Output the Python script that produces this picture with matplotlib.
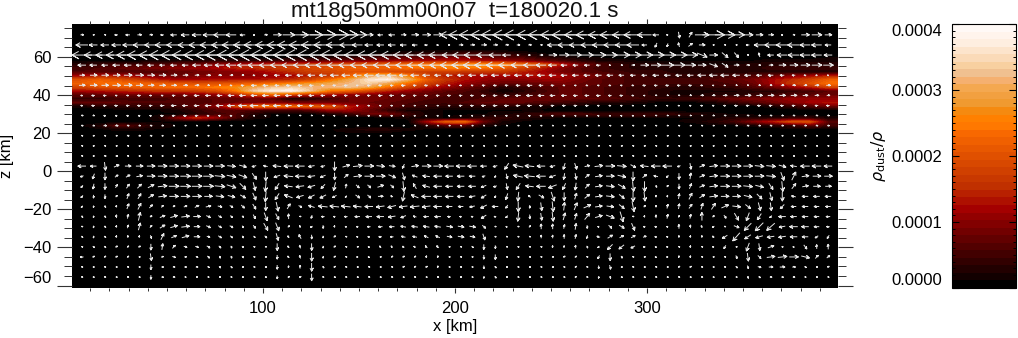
#!/usr/bin/env python
"""Dust concentration slice with velocity arrows and a banded colour bar."""
import numpy as np
import matplotlib
matplotlib.use("Agg")
import matplotlib.pyplot as plt
from matplotlib.cm import ScalarMappable
from matplotlib.collections import LineCollection
from matplotlib.colors import ListedColormap, Normalize
from matplotlib.ticker import FixedLocator, MultipleLocator
from matplotlib.transforms import IdentityTransform

plt.rcParams["font.family"] = ["Liberation Sans", "DejaVu Sans"]

title = "mt18g50mm00n07  t=180020.1 s"

band_colors = ["#000000", "#120000", "#220000", "#320000", "#420000", "#520000", "#620000", "#720000",
               "#820000", "#920000", "#a40000", "#ae1000", "#b82000", "#c03000", "#c83800", "#d04000",
               "#d84800", "#e05000", "#e85800", "#f06000", "#f86800", "#ff7800", "#ff8000", "#f58a10",
               "#f09a30", "#f2a040", "#f4a850", "#f5b070", "#f0c090", "#f8d0a0", "#fadab8", "#fce4cc",
               "#feeee0", "#fff4ec", "#fff9f6"]

# rho_dust/rho in units of 1e-5, one row per 2 km from z=64 down to z=18, one column per 10 km
dust_z = list(range(64, 16, -2))
dust = [
    [0]*40,
    [0,0,0,0,0,0,0,0,0,0,0,0,0,0,0,0,1,2,3,3,4,4,3,2,1,0,0,0,0,0,0,0,0,0,0,0,0,0,0,0],
    [0,0,0,0,0,0,0,0,0,0,0,0,1,2,3,4,5,6,7,8,8,7,6,5,3,2,1,1,0,0,0,0,0,0,0,0,0,0,0,1],
    [1,1,1,1,2,2,2,3,3,3,4,5,6,7,8,9,10,11,12,13,13,12,11,9,7,5,3,2,2,1,1,1,1,1,1,1,2,2,2,2],
    [3,4,5,5,6,7,8,10,12,14,15,16,17,18,20,21,22,24,25,26,27,27,26,24,20,14,9,6,4,3,3,2,2,2,2,3,3,3,3,3],
    [5,6,7,8,9,10,11,12,14,15,16,18,19,20,22,22,23,24,24,25,25,25,22,18,14,10,7,5,4,3,3,3,3,3,3,3,4,4,4,4],
    [6,6,6,6,6,7,8,9,10,11,13,15,17,18,20,20,19,18,17,17,16,16,16,14,12,9,7,6,5,4,4,3,3,3,3,3,3,3,3,3],
    [12,14,13,11,9,8,9,10,10,10,11,12,14,16,22,30,33,26,18,14,13,12,12,12,13,12,10,8,6,5,4,4,4,4,5,6,8,10,12,14],
    [20,22,20,17,14,12,12,13,13,13,14,15,18,24,30,36,38,32,22,16,13,11,10,10,11,11,9,7,6,5,5,5,5,6,7,9,12,15,18,22],
    [22,24,24,23,22,21,20,20,21,22,24,26,28,30,32,34,30,24,18,14,11,9,8,8,8,9,8,7,6,5,5,5,5,5,6,8,12,16,20,24],
    [18,20,21,22,23,24,24,25,27,30,33,34,32,32,33,30,24,18,14,11,8,6,3,4,6,7,7,6,5,4,4,3,3,4,4,6,8,11,14,18],
    [12,13,14,15,16,16,17,19,24,34,38,39,33,24,22,18,14,11,9,7,6,4,1,3,5,7,7,6,5,4,3,2,2,2,2,3,3,4,5,7],
    [7,7,8,8,8,8,9,10,13,18,22,18,14,12,10,9,8,7,7,6,5,5,4,5,6,7,7,6,5,4,3,2,2,3,3,4,5,6,7,8],
    [4,4,5,5,5,6,6,7,7,8,7,2,3,5,8,9,8,7,6,5,5,6,7,8,8,8,7,7,6,5,4,4,5,6,8,9,10,11,11,11],
    [7,7,7,6,6,6,6,7,8,9,10,9,9,9,8,8,7,6,5,5,6,7,7,7,6,5,4,3,3,2,1,1,1,2,4,6,8,10,12,13],
    [2,3,3,4,4,5,7,10,18,24,25,24,22,20,14,10,7,5,4,3,3,3,3,2,2,1,1,0,0,0,0,0,0,0,0,1,2,4,6,8],
    [0,0,1,1,1,2,4,6,7,6,5,5,7,12,12,8,4,2,2,1,1,1,1,1,1,0,0,0,0,0,0,0,0,0,0,0,0,0,1,1],
    [0,0,0,0,1,1,3,5,6,3,1,1,1,2,4,8,9,5,2,1,1,1,2,3,5,6,6,5,5,5,5,4,3,2,1,1,0,0,0,0],
    [0,0,0,0,2,10,16,12,6,2,1,0,0,0,0,0,1,2,2,1,2,4,4,3,2,1,1,1,1,1,1,1,1,2,3,3,3,4,4,2],
    [0,0,1,1,1,1,1,0,0,0,0,0,0,0,0,0,0,0,12,22,24,8,2,1,0,0,0,0,0,0,1,1,2,3,5,10,14,20,20,6],
    [1,3,7,5,2,1,1,0,0,0,0,0,0,0,0,0,0,0,3,6,6,2,1,0,0,0,0,0,0,0,0,0,0,1,1,2,3,4,7,5],
    [0,1,2,2,1,1,1,0,0,0,0,0,1,1,2,3,3,2,1,1,1,0,0,0,0,0,0,0,0,0,0,0,0,0,0,0,0,1,1,1],
    [0,0,0,0,0,0,0,0,0,0,0,0,0,1,1,1,1,0,0,0,0,0,0,0,0,0,0,0,0,0,0,0,0,0,0,0,0,0,0,0],
    [0]*40,
]

# arrow components in pixels, 66 columns per row, rows run from the top of the panel
u_upper = [
    [3,1,0,-3,-4,4,3,-3,-6,-8,-9,-10,-12,-10,-5,-1,3,8,12,16,22,26,28,24,18,8,-5,-6,5,7,8,9,-18,-24,-26,-26,-28,-28,-28,-26,-26,-24,-24,-22,-22,-20,-20,-18,-18,-14,-6,-1,1,3,14,22,20,16,10,7,5,-1,2,8,10,7],
    [-12,-8,-8,-9,-10,-12,-12,-14,-14,-14,-15,-16,-16,-18,-18,-20,-20,-20,-22,-22,-20,-18,-16,-12,-10,-8,-7,-7,-6,-5,-3,-2,-1,4,4,5,4,3,3,3,2,-10,-12,-12,-12,-12,-12,-12,-12,-5,-2,-1,-1,4,6,1,1,1,-3,-10,-12,-12,-12,-10,-10,-6],
    [-20,-18,-18,-20,-22,-24,-24,-26,-26,-26,-26,-26,-28,-28,-30,-30,-30,-30,-30,-30,-30,-28,-28,-26,-26,-24,-24,-22,-20,-20,-18,-18,-14,-16,-16,-14,-12,-8,-2,-2,3,8,10,11,12,14,14,16,16,16,16,16,16,14,10,8,6,4,1,-1,-6,-10,-11,-10,-10,-8],
    [-8,-7,-6,-7,-7,-6,-6,-5,-6,-6,-8,-8,-9,-10,-10,-12,-12,-13,-13,-13,-13,-14,-14,-14,-14,-14,-14,-14,-15,-15,-16,-16,-18,-18,-18,-18,-18,-16,-14,-12,-10,-8,-6,-5,-5,-4,-1,1,3,8,10,12,12,10,8,8,6,5,3,2,4,7,8,9,10,10],
    [5,7,7,7,8,8,7,7,6,5,4,4,3,3,2,-2,-4,-5,-6,-6,-7,-7,-8,-8,-8,-9,-9,-9,-8,-8,-7,-6,-6,-6,-7,-7,-7,-7,-7,-7,-7,-7,-6,-6,-6,-6,-6,-5,-5,-5,-6,-6,-6,-6,-8,-8,-8,-7,-6,-5,-5,-4,-3,-2,-1,-1],
    [6,7,7,8,8,7,6,6,5,4,4,2,1,-2,-3,-5,-5,-4,-4,-4,-4,-3,-3,-3,-2,-3,-3,-3,-4,-3,-3,-3,-2,-2,-2,-3,-3,-3,-4,-5,-4,-3,-2,-2,-2,-2,-2,-2,-2,-3,-3,-3,-3,-3,-2,-1,-1,1,1,2,2,3,3,3,4,4],
    [-2,-3,-3,-2,-2,-3,-2,-2,-3,-4,-5,-5,-5,-6,-6,-6,-6,-6,-6,-4,-5,-4,-4,-3,-4,-3,-4,-4,-4,-3,-3,-3,-3,-3,-3,-4,-4,-5,-5,-6,-6,-5,-5,-4,-4,-4,-3,-3,-2,-1,1,1,1,2,3,3,4,5,6,6,6,6,6,5,4,3],
    [-2,-3,-3,-3,-3,-3,-3,-4,-5,-5,-5,-6,-7,-7,-8,-8,-7,-7,-6,-5,-4,-3,-3,-2,-2,-2,-2,-2,-2,-1,-1,-1,-2,-3,-3,-4,-4,-4,-4,-4,-3,-3,-3,-3,-3,-2,-2,-2,-1,-1,-1,-1,-1,-2,-2,-2,-2,-3,-3,-3,-3,-3,-3,-3,-3,-3],
    [2,2,-2,-2,-2,-2,-2,-3,-3,-3,-3,-2,-2,-2,-1,-1,-1,1,1,1,1,1,-1,-1,-1,-2,-2,-2,-1,-1,-1,-1,-1,-1,-1,-1,-1,-2,-2,-2,-2,-2,-2,-1,-1,-1,-1,-1,-1,-1,1,1,1,1,1,2,2,2,2,2,2,2,2,2,2,2],
    [2,2,3,3,2,2,2,2,1,1,1,1,1,1,1,0,0,1,1,1,1,1,1,1,1,1,1,1,1,1,1,1,1,1,1,1,1,1,1,1,1,1,0,0,1,1,1,1,1,1,1,1,1,1,1,1,1,2,2,2,2,2,2,2,2,2],
    [1,1,1,1,2,2,2,1,1,1,0,0,1,1,0,0,1,1,0,0,1,1,0,0,1,1,1,1,1,1,1,0,0,0,0,1,1,0,0,1,1,0,0,1,1,1,0,0,1,1,0,0,1,1,1,0,0,1,1,1,0,0,1,1,1,1],
    [1,1,1,0,0,1,1,1,1,0,0,0,1,1,0,0,0,1,1,0,0,0,0,1,1,0,0,1,1,0,0,1,1,0,0,0,0,0,1,1,0,0,0,1,1,0,0,0,1,1,0,0,0,1,1,0,0,0,0,1,1,0,0,1,1,1],
    [1,1,2,2,1,1,0,0,1,1,1,1,0,0,1,1,0,0,1,1,0,0,0,1,1,1,1,1,0,0,1,1,1,1,0,0,1,1,1,0,0,1,1,1,0,0,1,1,1,1,0,0,1,1,0,0,1,1,1,1,1,1,1,1,1,1],
]
# the few upper arrows that bend out of the horizontal: row, column, vertical part
upper_bend_row = [0, 0, 1, 1, 1, 1, 2, 2, 2, 2, 3, 3]
upper_bend_col = [52, 53, 50, 51, 52, 53, 54, 56, 57, 59, 55, 56]
upper_bend_w = [-6, 5, -4, -3, 4, 3, -4, -5, -5, 4, -3, -4]

u_lower = [
    [-8,-6,1,5,6,7,8,9,9,9,9,9,9,8,7,-4,-4,-8,-9,-9,-6,-4,0,7,9,9,8,6,-2,7,9,9,-9,-9,-9,-6,-4,-4,-10,-9,-8,-5,-2,2,5,8,9,9,5,-8,-9,-9,-3,1,5,8,9,9,9,9,9,7,-6,-9,-9,-8],
    [-3,-2,0,3,4,6,8,9,9,10,10,10,10,9,8,4,0,-6,-9,-9,-7,-5,0,4,8,9,9,7,2,-5,-7,-8,-7,-7,-6,-3,-1,1,-9,-10,-9,-6,-1,1,4,7,8,8,0,4,-4,-2,0,1,5,8,9,9,9,9,9,3,4,7,8,8],
    [-2,-1,0,2,3,4,6,9,10,10,10,10,10,9,6,2,-1,-4,-8,-8,-7,-4,-2,1,3,3,6,3,1,-3,-7,-8,-7,-7,-7,-5,-3,1,-4,-8,-9,-8,-3,-1,4,7,8,7,1,0,0,0,0,2,5,8,9,9,9,8,4,1,4,6,7,6],
    [-2,0,0,0,2,3,5,8,9,9,9,8,8,7,5,3,-1,-4,-8,-7,-6,-6,-4,-1,4,3,5,-2,-2,-7,-9,-8,-8,-7,-6,-5,-1,-2,-1,-2,5,3,0,2,5,7,8,5,0,1,0,0,1,3,5,8,8,8,8,5,2,0,-4,-6,-6,-6],
    [-1,0,0,0,2,3,3,2,2,3,4,5,4,3,3,3,0,2,3,3,-6,-9,-9,-9,-8,-8,-8,-8,-8,-9,-8,-8,-6,-5,-5,-6,-6,-2,0,0,1,1,1,3,7,7,7,5,2,0,0,1,1,3,2,4,7,8,5,2,1,-4,-5,-6,-5,-5],
    [0,0,0,0,1,2,2,5,7,8,7,4,3,2,1,2,3,3,0,0,-1,-3,-2,-3,-5,-6,-7,-7,-5,-3,-5,-6,-3,-2,-2,-5,-2,-2,-1,0,1,1,2,2,5,7,8,3,0,0,0,1,1,1,0,1,2,4,-3,-4,-2,-7,-6,-6,-5,-4],
    [0,0,0,0,1,2,2,5,7,8,6,4,3,3,1,2,4,3,1,-1,-2,0,0,-1,-2,-3,-4,-5,-5,-6,-6,-6,6,6,6,3,0,-1,0,0,0,0,1,1,0,-1,3,5,3,-2,-2,-1,0,0,-1,-2,0,5,-7,-8,-8,-6,-8,-7,-5,-3],
    [0,0,0,0,0,0,1,3,5,7,6,3,3,2,1,0,2,2,-1,-2,0,0,0,0,-1,-2,-3,-3,-4,-4,-4,-4,5,6,5,2,0,0,0,0,0,0,0,1,-1,-3,5,4,4,3,-2,-1,0,0,0,-2,-5,-7,-6,-7,-7,-7,-7,-6,-3,-2],
    [0,0,0,0,0,0,0,1,3,3,3,3,2,1,0,0,0,0,-1,-1,0,0,0,0,0,-1,-1,-1,-2,-2,-2,-2,1,1,1,0,0,0,0,0,0,0,0,0,1,-1,-5,-5,-4,-2,-1,-1,0,0,0,-1,-2,0,-3,1,6,1,-1,3,0,0],
    [-3,0,0,0,0,0,1,2,3,2,2,2,1,1,0,0,0,0,-1,-1,0,0,0,0,-1,-1,0,0,0,0,0,0,1,1,0,0,0,0,0,0,0,0,0,0,0,-2,0,1,1,0,-1,-1,0,0,0,0,0,1,1,3,8,9,9,8,3,3],
    [1,0,0,0,1,1,0,2,2,2,2,2,1,1,0,0,0,0,0,0,0,0,0,0,0,0,0,0,0,0,0,0,1,1,0,0,0,0,1,1,1,1,1,1,1,0,1,1,1,1,0,0,0,0,0,0,1,1,1,3,4,5,3,2,1,1],
    [1,1,1,1,0,0,0,2,2,1,1,1,1,1,0,0,0,0,0,0,0,0,0,0,0,0,0,0,0,0,0,0,1,1,0,0,0,0,1,1,1,1,1,1,1,0,1,1,1,1,0,0,0,0,0,0,1,1,1,2,2,2,2,1,1,1],
]
w_lower = [
    [0,0,-8,2,0,0,0,0,0,0,0,0,0,-1,-2,-1,1,1,0,0,-1,-1,-9,2,1,0,-1,-1,-4,1,0,0,0,0,0,0,-1,-6,2,1,0,-1,-6,-6,1,1,0,-1,-3,1,0,0,-1,-6,2,1,0,0,0,-1,-1,-2,1,0,0,0],
    [-1,-5,-7,2,2,1,0,0,0,0,0,0,-1,-2,-3,-6,-9,-2,1,0,-1,-2,-7,3,1,0,0,-3,-7,2,1,0,0,0,0,-1,-2,-5,2,1,0,-2,-6,-6,3,1,0,-2,-9,3,1,-2,-6,6,2,1,0,0,0,0,-1,-8,8,1,0,0],
    [-2,-5,-6,3,4,4,3,1,0,0,0,0,-1,-3,-6,-8,-10,-6,1,-1,-2,-4,-8,4,-3,-3,2,-3,-10,5,2,0,0,0,0,-2,-1,-6,-6,1,0,-3,-6,-7,4,1,-1,-4,-10,-10,-1,1,-5,5,2,1,0,0,-1,-2,-6,-10,5,1,0,0],
    [-2,-3,-4,1,5,5,3,1,0,0,0,0,-1,-2,-3,-7,-10,-6,3,-2,-3,-3,-2,-1,-3,-3,0,1,-9,3,0,0,0,0,-1,-3,-2,-6,-9,2,-3,-9,-8,6,4,1,-1,-4,-10,-9,2,2,5,6,3,1,0,0,-2,-5,-8,-9,1,0,0,0],
    [-1,-2,-1,2,5,6,3,2,1,1,2,1,-1,-2,-3,-5,-8,-9,5,-2,2,1,1,1,1,0,-1,-2,-1,-1,-1,0,0,0,-1,-3,0,-3,-10,-3,-8,-10,8,7,3,1,-1,-4,-10,1,2,4,5,4,6,6,3,-1,-4,-8,-8,-4,0,0,0,0],
    [-1,-2,-1,3,4,8,1,2,2,1,0,-2,-2,-2,-1,-4,-8,-6,5,0,-3,0,0,0,0,0,0,-1,-2,1,0,0,0,0,0,-3,0,-2,-9,-4,-7,-9,7,6,6,2,-3,-10,0,2,3,4,2,4,8,1,-3,-7,-8,-6,-2,0,0,0,0,0],
    [0,-2,-1,2,3,7,2,3,2,1,0,-2,-2,-2,-2,-3,-7,-8,1,2,-1,-3,2,0,0,0,0,0,1,1,1,1,-1,-1,-1,-3,0,0,0,1,5,5,4,6,-3,0,-3,-3,-7,0,0,0,4,3,1,-1,0,-2,-7,-8,-7,-1,0,0,0,0],
    [-1,-2,-1,2,2,2,-3,6,2,2,0,-1,-2,-2,-2,-1,-2,-7,1,4,-4,-2,1,0,0,0,0,0,1,1,2,2,-1,-1,-1,-6,0,0,0,0,3,3,4,4,-3,1,3,2,2,1,0,0,2,2,2,1,-3,-8,-4,-2,-1,-1,0,0,-2,-3],
    [0,-1,-1,1,1,1,-6,6,3,-1,-1,-2,-2,-2,-1,0,0,-7,1,3,-7,-2,1,0,0,0,1,1,1,1,2,2,0,0,-1,-5,-3,0,0,0,0,2,2,3,-2,-1,-5,-4,-2,0,0,0,0,2,0,0,-3,0,-8,-7,2,0,0,-4,4,5],
    [0,1,1,1,1,0,-7,1,-1,0,-1,-2,-2,-2,-1,0,0,-4,1,3,-8,-2,1,0,0,0,0,1,1,1,2,2,0,0,0,-4,-5,0,0,0,0,0,1,1,0,-3,-7,-2,0,0,0,0,2,2,0,0,0,-3,-8,-3,1,1,0,-2,3,2],
    [0,0,0,0,0,0,-5,0,0,0,0,-1,-1,-1,0,0,0,-4,2,3,-8,-1,1,0,0,0,0,0,1,1,1,2,0,0,0,-3,-1,0,0,0,0,0,0,1,0,-3,-4,0,0,0,0,0,1,1,0,0,0,-1,-3,-1,0,0,0,-1,0,1],
    [0,0,0,0,0,0,-4,0,0,0,0,0,0,0,0,0,0,-3,1,1,-7,0,0,0,0,0,0,0,0,0,0,0,0,0,0,-2,-1,0,0,0,0,0,0,1,0,-2,-2,0,0,0,0,0,0,0,0,0,0,0,-2,-1,0,0,0,0,0,0],
]


def arrow_paths(us, ws):
    # shaft plus two open barbs, centred on the grid point, all in pixels
    paths = []
    for u, w in zip(us, ws):
        length = np.hypot(u, w)
        if length < 1.5:
            u, w = (u or 1) * 1.5, w * 1.5
            length = np.hypot(u, w)
        ang = np.arctan2(w, u)
        tip = np.array([u, w]) / 2
        tail = -tip
        barb = 0.36 * length + 0.4
        left = tip - barb * np.array([np.cos(ang - 0.5), np.sin(ang - 0.5)])
        right = tip - barb * np.array([np.cos(ang + 0.5), np.sin(ang + 0.5)])
        paths.append(np.array([tail, tip, left, tip, right]))
    return paths


def main():
    fig = plt.figure(figsize=(10.18, 3.38), dpi=100)
    W, H = 1018, 338
    ax = fig.add_axes([72 / W, 1 - 288 / H, (838 - 72) / W, (288 - 24) / H], facecolor="black")
    cax = fig.add_axes([952 / W, 1 - 288 / H, (1016 - 952) / W, (288 - 24) / H])

    cmap = ListedColormap(band_colors)
    norm = Normalize(0, 4e-4)
    ax.imshow(np.array(dust) * 1e-5, cmap=cmap, norm=norm, interpolation="bilinear", aspect="auto",
              origin="upper", extent=[0, 400, dust_z[-1] - 1, dust_z[0] + 1], zorder=1)

    xs, zs, us, ws = [], [], [], []
    upper_w = [[0] * 66 for _ in u_upper]
    for r, c, v in zip(upper_bend_row, upper_bend_col, upper_bend_w):
        upper_w[r][c] = v
    for j, (urow, wrow) in enumerate(zip(u_upper + u_lower, upper_w + w_lower)):
        for i, (u, w) in enumerate(zip(urow, wrow)):
            xs.append(5.7 + 5.98 * i)
            zs.append(71.6 - 5.3 * j)
            us.append(u)
            ws.append(w)
    arrows = LineCollection(arrow_paths(us, ws), colors="#e6e6e6", linewidths=0.7,
                            offsets=np.column_stack([xs, zs]), offset_transform=ax.transData,
                            transform=IdentityTransform(), zorder=3)
    ax.add_collection(arrows, autolim=False)

    ax.set_xlim(0.5, 399.5)
    ax.set_ylim(-61.3, 77.3)
    ax.xaxis.set_major_locator(FixedLocator([100, 200, 300]))
    ax.xaxis.set_minor_locator(MultipleLocator(10))
    ax.yaxis.set_major_locator(FixedLocator([-60, -40, -20, 0, 20, 40, 60]))
    ax.yaxis.set_minor_locator(MultipleLocator(5))
    ax.tick_params(axis="x", which="major", direction="out", top=True, length=3.6, width=0.8, labelsize=12, pad=6, color="#333333")
    ax.tick_params(axis="x", which="minor", direction="out", top=True, length=2, width=0.7, color="#333333")
    ax.tick_params(axis="y", which="major", direction="out", right=True, length=11, width=0.8, labelsize=12, pad=4, color="#333333")
    ax.tick_params(axis="y", which="minor", direction="out", right=True, length=5.5, width=0.7, color="#333333")
    for s in ax.spines.values():
        s.set_visible(False)
    ax.get_yticklabels()[0].set_va("bottom")
    ax.set_xlabel("x [km]", fontsize=12, labelpad=2)
    ax.set_ylabel("z [km]", fontsize=12, labelpad=6)
    fig.text(455 / W, 1 - 17 / H, title, fontsize=16, ha="center", va="baseline", color="#111111")

    cb = fig.colorbar(ScalarMappable(norm=norm, cmap=cmap), cax=cax)
    cb.outline.set_linewidth(0.8)
    cb.set_ticks([0, 1e-4, 2e-4, 3e-4, 4e-4], labels=["0.0000", "0.0001", "0.0002", "0.0003", "0.0004"])
    cax.yaxis.set_minor_locator(MultipleLocator(1e-5))
    cax.yaxis.set_ticks_position("both")
    cax.tick_params(which="major", direction="in", left=True, right=True, labelleft=True, labelright=False,
                    length=5, width=0.8, labelsize=12, pad=7)
    cax.tick_params(which="minor", direction="in", left=True, right=True, length=2.5, width=0.7)
    labels = cax.get_yticklabels()
    labels[0].set_va("bottom")
    labels[-1].set_va("top")
    fig.text(878 / W, 1 - 156 / H, r"$\rho_{\mathrm{dust}}/\rho$", fontsize=11.5, rotation=90, ha="center", va="center",
             math_fontfamily="dejavusans")

    fig.savefig("out.png", dpi=100)


if __name__ == "__main__":
    main()
